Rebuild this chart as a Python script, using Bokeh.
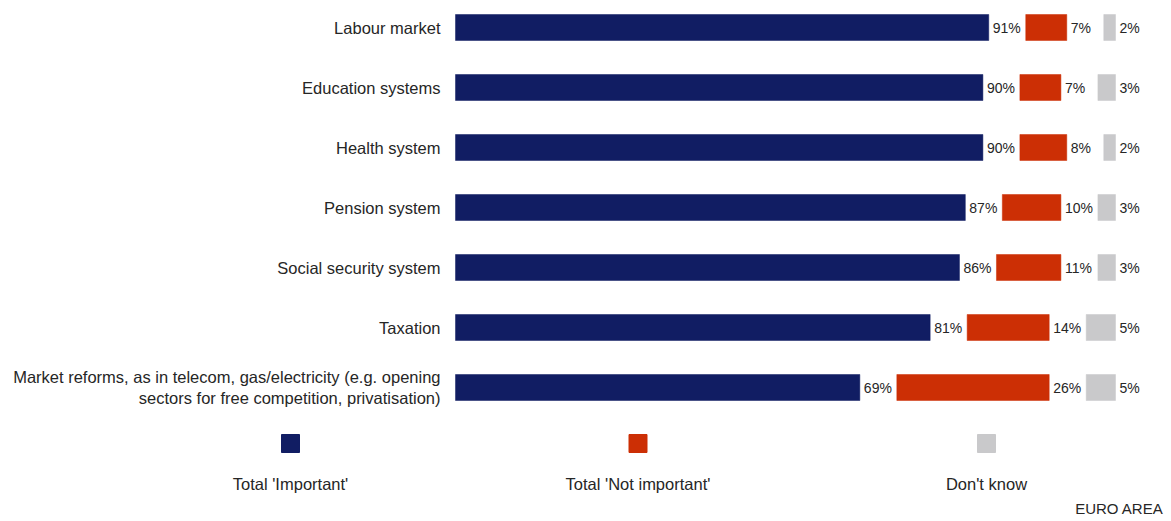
from bokeh.plotting import figure
from bokeh.models import Range1d, ColumnDataSource, Label
from bokeh.core.properties import value
from bokeh.embed import file_html
from bokeh.resources import INLINE

# ---- data ----
categories = [
    "Labour market",
    "Education systems",
    "Health system",
    "Pension system",
    "Social security system",
    "Taxation",
    "Market reforms, as in telecom, gas/electricity (e.g. opening\nsectors for free competition, privatisation)",
]
important = [91, 90, 90, 87, 86, 81, 69]
not_important = [7, 7, 8, 10, 11, 14, 26]
dont_know = [2, 3, 2, 3, 3, 5, 5]
series_names = ["Total 'Important'", "Total 'Not important'", "Don't know"]
colors = ["#111d63", "#cc2f05", "#c9c9cb"]
region_note = "EURO AREA"

# ---- layout ----
W, H = 1168, 519
X0 = 455.0      # px of 0 %
PX = 5.86       # px per percentage point
Y0 = 27.0       # px of first row centre
ROW = 60.0      # px per row
GAP = 37.0 / PX # gap between segments (in % units)
FONT = "Liberation Sans"
TXT = "#262626"

p = figure(width=W, height=H, output_backend="svg", toolbar_location=None,
           x_range=Range1d(-X0 / PX, (W - X0) / PX),
           y_range=Range1d((H - Y0) / ROW, -Y0 / ROW),
           x_axis_type=None, y_axis_type=None, min_border=0,
           outline_line_color=None, background_fill_color="white",
           border_fill_color="white")
p.grid.visible = False

n = len(categories)
ys = list(range(n))
l1 = [0] * n
r1 = important
l2 = [a + GAP for a in important]
r2 = [a + GAP + b for a, b in zip(important, not_important)]
l3 = [a + GAP for a in r2]
r3 = [a + c for a, c in zip(l3, dont_know)]

src = ColumnDataSource(dict(y=ys, l1=l1, r1=r1, l2=l2, r2=r2, l3=l3, r3=r3,
                            t1=[f"{v}%" for v in important],
                            t2=[f"{v}%" for v in not_important],
                            t3=[f"{v}%" for v in dont_know],
                            cat=categories, zero=[0] * n))

BH = 26.0 / ROW
for (l, r, t), c in zip([("l1", "r1", "t1"), ("l2", "r2", "t2"), ("l3", "r3", "t3")], colors):
    p.hbar(y="y", left=l, right=r, height=BH, source=src, fill_color=c,
           line_color=c, line_width=0.5)
    p.text(x=r, y="y", text=t, source=src, x_offset=4, text_align="left",
           text_baseline="middle", text_font=value(FONT), text_font_size="14px",
           text_color=TXT)

# category labels
p.text(x="zero", y="y", text="cat", source=src, x_offset=-15, text_align="right",
       text_baseline="middle", text_font=value(FONT), text_font_size="16.5px",
       text_color=TXT, text_line_height=1.2)

# legend
leg_px = [290.0, 637.5, 986.0]
leg_x = [(v - X0) / PX for v in leg_px]
leg_sq_y = (443.0 - Y0) / ROW
leg_tx_y = (483.0 - Y0) / ROW
p.scatter(x=leg_x, y=[leg_sq_y] * 3, marker="square", size=18,
          fill_color=colors, line_color=colors)
p.text(x=leg_x, y=[leg_tx_y] * 3, text=series_names, text_align="center",
       text_baseline="middle", text_font=value(FONT), text_font_size="16.5px",
       text_color=TXT)

p.add_layout(Label(x=1163, y=3, x_units="screen", y_units="screen",
                   text=region_note, text_align="right", text_baseline="bottom",
                   text_font=FONT, text_font_size="15px", text_color=TXT))

open("out.html", "w").write(file_html(p, INLINE))
